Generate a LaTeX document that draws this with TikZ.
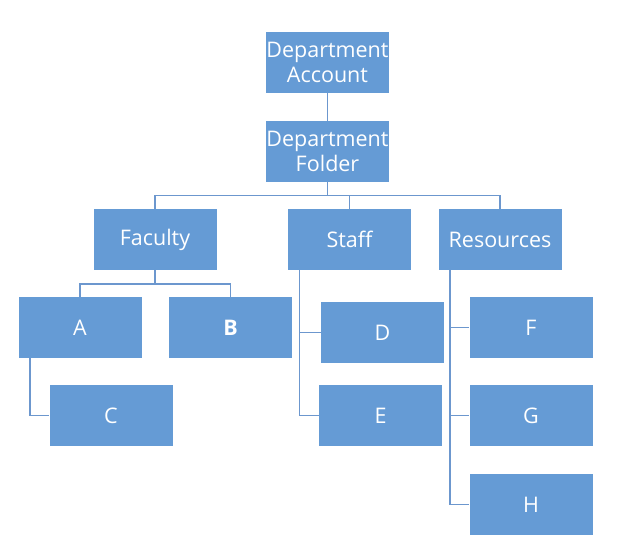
\documentclass[tikz,border=0pt]{standalone}
\usepackage{fontspec}
\setmainfont{Open Sans}
\definecolor{boxblue}{HTML}{659BD5}
\definecolor{linkblue}{HTML}{6C97CE}
\begin{document}
\begin{tikzpicture}[x=1pt,y=-1pt,
  orgbox/.style={draw=none,fill=boxblue,text=white,minimum width=123pt,minimum height=61pt,
    inner sep=0pt,align=center,font=\fontsize{21.5}{25.7}\selectfont},
  link/.style={draw=linkblue,line width=1.2pt}]
\useasboundingbox (0,0) rectangle (619,553);
\node[orgbox] (acct) at (327.5,62.5) {Department\\Account};
\node[orgbox] (folder) at (327.5,151.5) {Department\\Folder};
\node[orgbox] (fac) at (155,239.5) {Faculty};
\node[orgbox] (staff) at (349.5,239.5) {Staff};
\node[orgbox] (res) at (500,239.5) {Resources};
\node[orgbox] (a) at (80,327.5) {A};
\node[orgbox] (b) at (230.5,327.5) {\bfseries B};
\node[orgbox] (c) at (111,415.5) {C};
\node[orgbox] (d) at (382.5,332.5) {D};
\node[orgbox] (e) at (380.5,415.5) {E};
\node[orgbox] (f) at (531,327.5) {F};
\node[orgbox] (g) at (531,415.5) {G};
\node[orgbox] (h) at (531,504.5) {H};
\coordinate (bus) at (327.5,195.5);
\coordinate (fbus) at (155,284);
\draw[link] (acct.south) -- (folder.north);
\draw[link] (folder.south) -- (bus);
\draw[link] (fac.north) |- (bus) -| (res.north);
\draw[link] (staff.north) -- (staff.north |- bus);
\draw[link] (fac.south) -- (fbus);
\draw[link] (a.north) |- (fbus) -| (b.north);
\draw[link] ([xshift=-50pt]a.south) |- (c.west);
\draw[link] ([xshift=-50pt]staff.south) |- (d.west);
\draw[link] ([xshift=-50pt]staff.south) |- (e.west);
\draw[link] ([xshift=-50pt]res.south) |- (f.west);
\draw[link] ([xshift=-50pt]res.south) |- (g.west);
\draw[link] ([xshift=-50pt]res.south) |- (h.west);
\end{tikzpicture}
\end{document}
